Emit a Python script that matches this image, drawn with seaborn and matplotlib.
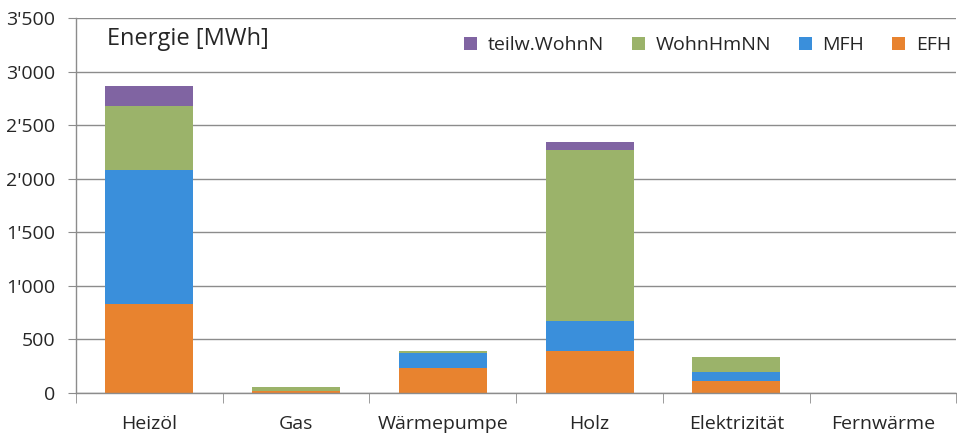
import numpy as np
import pandas as pd
import matplotlib
matplotlib.use("Agg")
import matplotlib.pyplot as plt
import seaborn as sns
from matplotlib.ticker import FuncFormatter, FixedLocator

# Daten
kategorien = ["Heizöl", "Gas", "Wärmepumpe", "Holz", "Elektrizität", "Fernwärme"]
efh = [830, 15, 233, 390, 110, 0]
mfh = [1250, 0, 137, 280, 90, 0]
wohnhmnn = [600, 40, 19, 1595, 135, 0]
teilw = [190, 0, 0, 75, 0, 0]

serien = ["EFH", "MFH", "WohnHmNN", "teilw.WohnN"]
farben = {"EFH": "#E8832F", "MFH": "#3A8FDB", "WohnHmNN": "#9BB36A", "teilw.WohnN": "#8064A2"}

df = pd.DataFrame({"Kategorie": kategorien, "EFH": efh, "MFH": mfh,
                   "WohnHmNN": wohnhmnn, "teilw.WohnN": teilw})
# kumulierte Summen fuer gestapelte Balken
kum = df[serien].cumsum(axis=1)
kum["Kategorie"] = df["Kategorie"]

sns.set_style("white")
plt.rcParams['font.family'] = ['Open Sans', 'DejaVu Sans']

fig = plt.figure(figsize=(9.57, 4.37), dpi=100)
ax = fig.add_axes([0.0794, 0.1007, 0.92, 0.858])

# von oben nach unten zeichnen, damit die Stapel sichtbar bleiben
for s in serien[::-1]:
    sns.barplot(data=kum, x="Kategorie", y=s, color=farben[s], width=0.6,
                saturation=1, label=s, ax=ax, edgecolor="none")

ax.set_ylim(0, 3500)
ax.set_xlim(-0.5, 5.5)
ax.set_yticks(np.arange(0, 3501, 500))
ax.yaxis.set_major_formatter(FuncFormatter(lambda v, p: f"{v:,.0f}".replace(",", "'")))
ax.set_xlabel("")
ax.set_ylabel("")
ax.grid(axis="y", color="#8c8c8c", linewidth=1)
ax.set_axisbelow(True)

for sp in ["top", "right"]:
    ax.spines[sp].set_visible(False)
for sp in ["left", "bottom"]:
    ax.spines[sp].set_color("#8c8c8c")
    ax.spines[sp].set_linewidth(1)

ax.tick_params(axis="y", length=6, color="#8c8c8c", labelsize=14, pad=9, left=True)
ax.tick_params(axis="x", which="major", length=0, labelsize=14, pad=16)
ax.xaxis.set_minor_locator(FixedLocator(np.arange(-0.5, 6, 1)))
ax.tick_params(axis="x", which="minor", length=7, color="#8c8c8c", bottom=True)

ax.text(0.035, 0.945, "Energie [MWh]", transform=ax.transAxes, fontsize=17,
        ha="left", va="center")

ax.legend(loc="upper right", bbox_to_anchor=(1.0136, 0.998), ncol=4, frameon=False,
          fontsize=14, handlelength=0.65, handleheight=0.65, columnspacing=1.45,
          handletextpad=0.55)

fig.savefig("out.png", dpi=100)
